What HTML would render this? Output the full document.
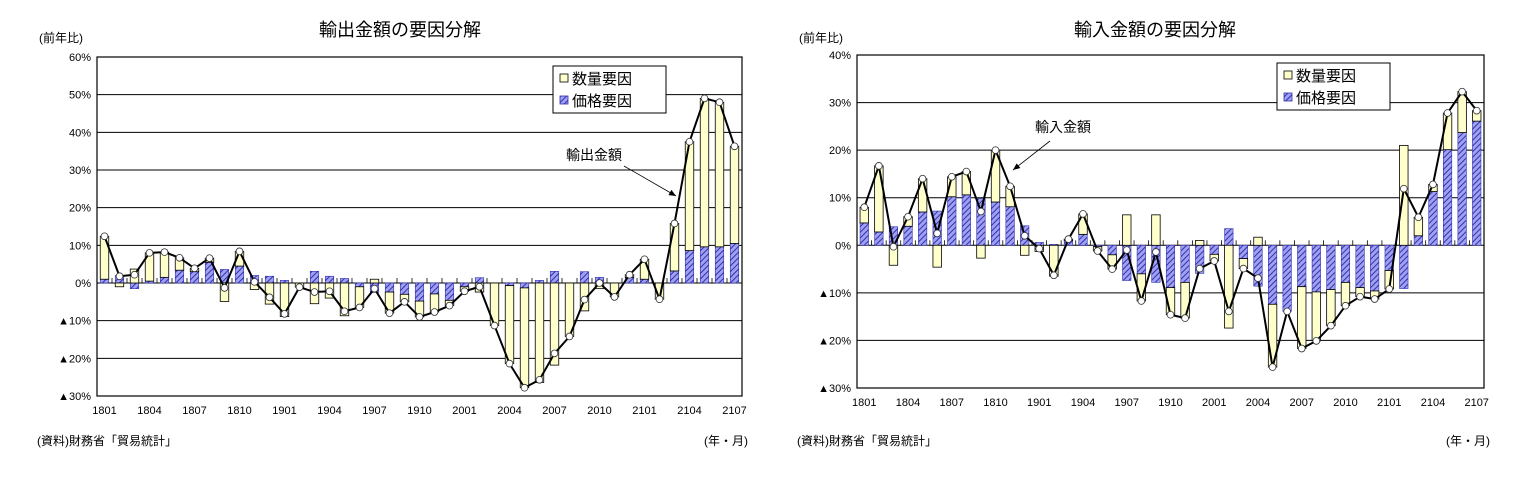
<!DOCTYPE html>
<html><head><meta charset="utf-8">
<style>
body{margin:0;background:#fff;}
svg text{font-family:"Liberation Sans","Noto Sans CJK JP",sans-serif;}
</style></head>
<body>
<svg id="svg" width="1529" height="488" xmlns="http://www.w3.org/2000/svg">
<defs>
<pattern id="hatch" patternUnits="userSpaceOnUse" width="4" height="4" patternTransform="rotate(45)">
<rect width="4" height="4" fill="#a0a0f0"/><line x1="0" y1="0" x2="0" y2="4" stroke="#3030b0" stroke-width="2"/>
</pattern>
</defs>
</svg>
<script>
const months=['1801','1802','1803','1804','1805','1806','1807','1808','1809','1810','1811','1812','1901','1902','1903','1904','1905','1906','1907','1908','1909','1910','1911','1912','2001','2002','2003','2004','2005','2006','2007','2008','2009','2010','2011','2012','2101','2102','2103','2104','2105','2106','2107'];
const expPrice=[1,2,-1.5,0.5,1.5,3.4,3,5.5,3.6,4.5,2,1.8,0.7,0,3.1,1.8,1.2,-1,-2.5,-2.4,-3,-4.8,-2.9,-4.6,-1,1.4,0,-0.7,-1.3,0.7,3.1,0,3,1.5,0,1.5,1,0,3.2,8.6,9.6,9.6,10.5];
const expQty=[11.4,-1,3.7,7.5,6.7,3.3,0.9,1.1,-4.9,3.9,-1.7,-5.6,-8.9,-1.1,-5.5,-4,-8.7,-5.5,1,-5.6,-2,-4.2,-4.8,-1.4,-1.2,-2.4,-11.3,-20.7,-26.5,-26.4,-21.8,-14.2,-7.4,-1.5,-3.7,0.7,5.3,-4.3,12.6,28.9,39.4,38.4,25.8];
const expTotal=[12.4,1.8,2.2,8,8.2,6.7,3.9,6.6,-1.3,8.4,0.3,-3.8,-8.2,-1.1,-2.4,-2.2,-7.5,-6.5,-1.5,-8,-5,-9,-7.7,-6,-2.2,-1,-11.3,-21.4,-27.8,-25.7,-18.7,-14.2,-4.4,0,-3.7,2.2,6.3,-4.3,15.8,37.5,49,48,36.3];
const expTicks=[60,50,40,30,20,10,0,-10,-20,-30];
const impPrice=[4.7,2.8,3.9,4,7,7.2,10.2,10.6,9.8,9.1,8.1,4.1,0.6,0.2,1,2.3,-0.3,-2,-7.4,-6,-7.8,-8.9,-7.8,-5.9,-1.9,3.5,-2.8,-8.6,-12.4,-13.9,-8.7,-9.8,-9.3,-7.8,-8.9,-9.6,-5.3,-9.1,2,11.3,20.1,23.7,26.1];
const impQty=[3.3,13.9,-4.2,2,7,-4.6,4.2,4.9,-2.7,10.9,4.3,-2.1,-1.3,-6.5,0.3,4.3,-0.9,-3,6.4,-5.7,6.4,-5.7,-7.5,1,-1.4,-17.4,-2.1,1.7,-13.2,0,-13,-10.3,-7.6,-4.9,-1.9,-1.7,-3.9,21,3.9,1.5,7.7,8.6,2.2];
const impTotal=[8,16.7,-0.3,6,14,2.5,14.4,15.5,7.1,20,12.4,2,-0.7,-6.3,1.3,6.6,-1.2,-5,-1,-11.7,-1.4,-14.6,-15.3,-4.9,-3.3,-13.9,-4.9,-6.9,-25.6,-13.9,-21.7,-20.1,-16.9,-12.7,-10.8,-11.3,-9.2,11.9,5.9,12.8,27.8,32.3,28.3];
const impTicks=[40,30,20,10,0,-10,-20,-30];

const svg=document.getElementById('svg');
const NS='http://www.w3.org/2000/svg';
function mk(tag,attrs,parent,text){const e=document.createElementNS(NS,tag);for(const k in attrs)e.setAttribute(k,attrs[k]);if(text!==undefined)e.textContent=text;(parent||svg).appendChild(e);return e;}
function lbl(v){return v<0?'▲'+(-v)+'%':v+'%';}

function chart(c){
  const g=mk('g',{});
  
  
  const n=months.length, slot=(c.x1-c.x0)/n;
  const yMax=c.ticks[0], yMin=c.ticks[c.ticks.length-1];
  const Y=v=>c.y0+(yMax-v)/(yMax-yMin)*(c.y1-c.y0);
  const X=i=>c.x0+slot*(i+0.5);
  // title
  let t=mk('text',{x:c.tx,y:36,'font-size':18,'text-anchor':'middle'},g,c.title);
  
  t=mk('text',{x:c.x0-58,y:42,'font-size':12},g,'(前年比)');
  
  // grid
  c.ticks.forEach(v=>{
    if(v!==yMax&&v!==yMin){const l=mk('line',{x1:c.x0,x2:c.x1,y1:Y(v),y2:Y(v),stroke:'#000','stroke-width':1},g);
    }
    const tl=mk('text',{x:c.x0-6,y:Y(v)+4,'font-size':11,'text-anchor':'end'},g,lbl(v));
    
  });
  const fr=mk('rect',{x:c.x0,y:c.y0,width:c.x1-c.x0,height:c.y1-c.y0,fill:'none',stroke:'#000','stroke-width':1.2},g);
  
  // ticks on zero line
  for(let i=0;i<=n;i++){const tk=mk('line',{x1:c.x0+slot*i,x2:c.x0+slot*i,y1:Y(0),y2:Y(0)-5,stroke:'#000','stroke-width':0.8},g);
    }
  // bars
  const bw=8.5;
  for(let i=0;i<n;i++){
    const p=c.price[i],q=c.qty[i];
    const pr=mk('rect',{x:X(i)-bw/2,y:Math.min(Y(0),Y(p)),width:bw,height:Math.abs(Y(p)-Y(0)),fill:'url(#hatch)',stroke:'#3030b0','stroke-width':0.6},g);
    
    const base=(p*q>0)?p:0;
    const qr=mk('rect',{x:X(i)-bw/2,y:Math.min(Y(base),Y(base+q)),width:bw,height:Math.abs(Y(base+q)-Y(base)),fill:'#ffffcc',stroke:'#000','stroke-width':0.8},g);
    
  }
  const pts=c.total.map((v,i)=>X(i)+','+Y(v)).join(' ');
  const pl=mk('polyline',{points:pts,fill:'none',stroke:'#000','stroke-width':2},g);
  
  c.total.forEach((v,i)=>{const m=mk('circle',{cx:X(i),cy:Y(v),r:3.4,fill:'#fff',stroke:'#333','stroke-width':0.8},g);
    });
  // x labels
  for(let i=0;i<n;i+=3){const xl=mk('text',{x:X(i),y:c.y1+18,'font-size':11,'text-anchor':'middle'},g,months[i]);
    }
  // legend
  const lg=mk('g',{},g);
  mk('rect',{x:c.lx,y:c.ly,width:113,height:47,fill:'#fff',stroke:'#000','stroke-width':1},lg);
  let s=mk('rect',{x:c.lx+7,y:c.ly+8,width:8,height:8,fill:'#ffffcc',stroke:'#000','stroke-width':0.8},lg);
  
  s=mk('text',{x:c.lx+19,y:c.ly+18,'font-size':15},lg,'数量要因');
  
  s=mk('rect',{x:c.lx+7,y:c.ly+30,width:8,height:8,fill:'url(#hatch)',stroke:'#3030b0','stroke-width':0.8},lg);
  
  s=mk('text',{x:c.lx+19,y:c.ly+40,'font-size':15},lg,'価格要因');
  
  // annotation
  const an=mk('text',{x:c.ax,y:c.ay,'font-size':14},g,c.atext);
  
  const ar=mk('line',{x1:c.a1[0],y1:c.a1[1],x2:c.a2[0],y2:c.a2[1],stroke:'#000','stroke-width':0.8},g);
  
  const dx=c.a2[0]-c.a1[0],dy=c.a2[1]-c.a1[1],L=Math.hypot(dx,dy),ux=dx/L,uy=dy/L;
  const hx=c.a2[0],hy=c.a2[1];
  const ah=mk('polygon',{points:`${hx},${hy} ${hx-7*ux-3*uy},${hy-7*uy+3*ux} ${hx-7*ux+3*uy},${hy-7*uy-3*ux}`,fill:'#000'},g);
  
  // footer
  let f=mk('text',{x:c.x0-60,y:445,'font-size':12},g,'(資料)財務省「貿易統計」');
  
  f=mk('text',{x:c.x1+6,y:445,'font-size':12,'text-anchor':'end'},g,'(年・月)');
  
}
chart({name:'export-chart',title:'輸出金額の要因分解',tx:400,x0:97,x1:742,y0:57,y1:396,ticks:expTicks,price:expPrice,qty:expQty,total:expTotal,lx:553,ly:66,ax:566,ay:160,atext:'輸出金額',a1:[624,166],a2:[676,196]});
chart({name:'import-chart',title:'輸入金額の要因分解',tx:1155,x0:857,x1:1484,y0:55,y1:388,ticks:impTicks,price:impPrice,qty:impQty,total:impTotal,lx:1277,ly:63,ax:1035,ay:132,atext:'輸入金額',a1:[1050,141],a2:[1013,170]});
</script>
</body></html>
